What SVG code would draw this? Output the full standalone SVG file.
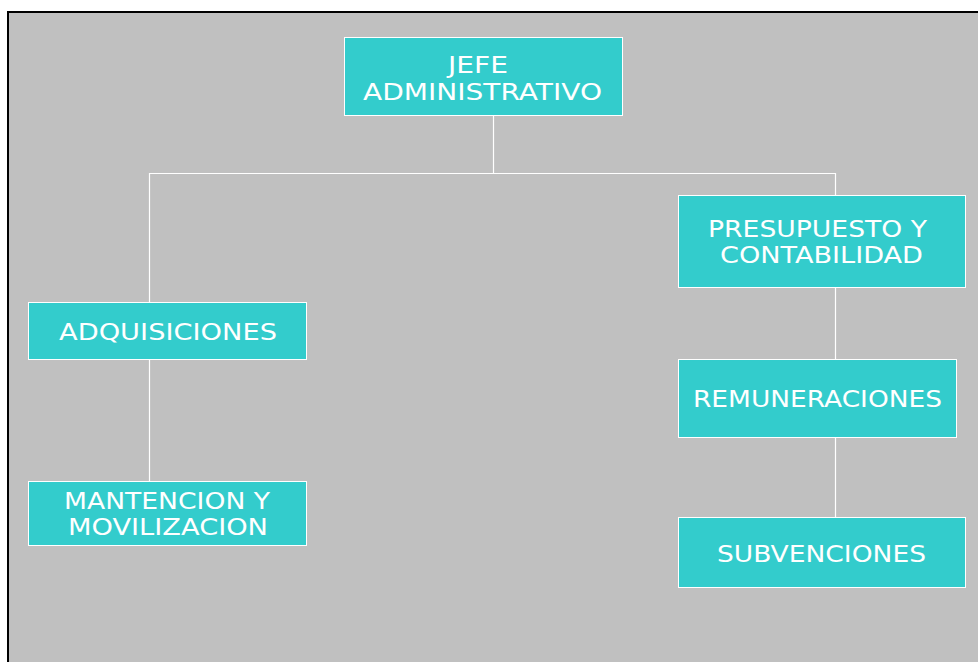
<svg xmlns="http://www.w3.org/2000/svg" width="978" height="662" viewBox="0 0 978 662">
<style>
.box{fill:#33CCCC;stroke:#FFFFFF;stroke-width:1}
.lbl{font-family:"DejaVu Sans","Verdana",sans-serif;font-size:23px;fill:#FFFFFF;text-anchor:middle}
.con{stroke:#FFFFFF;stroke-width:1.2;fill:none}
</style>
<rect x="0" y="0" width="978" height="662" fill="#FFFFFF"/>
<rect x="8" y="12" width="990" height="670" fill="#C0C0C0" stroke="#000000" stroke-width="2"/>
<g id="connectors">
<path class="con" d="M493.5,116 V173.5"/>
<path class="con" d="M149.5,302 V173.5 H835.5 V195"/>
<path class="con" d="M149.5,360 V481"/>
<path class="con" d="M835.5,288 V359"/>
<path class="con" d="M835.5,438 V517"/>
</g>
<g id="jefe">
<rect class="box" x="344.5" y="37.5" width="278" height="78"/>
<text class="lbl" x="478" y="73" textLength="60" lengthAdjust="spacingAndGlyphs">JEFE</text>
<text class="lbl" x="482.5" y="100" textLength="239" lengthAdjust="spacingAndGlyphs">ADMINISTRATIVO</text>
</g>
<g id="adquisiciones">
<rect class="box" x="28.5" y="302.5" width="278" height="57"/>
<text class="lbl" x="168" y="340" textLength="218" lengthAdjust="spacingAndGlyphs">ADQUISICIONES</text>
</g>
<g id="mantencion">
<rect class="box" x="28.5" y="481.5" width="278" height="64"/>
<text class="lbl" x="167" y="509" textLength="206" lengthAdjust="spacingAndGlyphs">MANTENCION Y</text>
<text class="lbl" x="168" y="535" textLength="200" lengthAdjust="spacingAndGlyphs">MOVILIZACION</text>
</g>
<g id="presupuesto">
<rect class="box" x="678.5" y="195.5" width="287" height="92"/>
<text class="lbl" x="817.5" y="237" textLength="219" lengthAdjust="spacingAndGlyphs">PRESUPUESTO Y</text>
<text class="lbl" x="821.5" y="263" textLength="203" lengthAdjust="spacingAndGlyphs">CONTABILIDAD</text>
</g>
<g id="remuneraciones">
<rect class="box" x="678.5" y="359.5" width="278" height="78"/>
<text class="lbl" x="817.5" y="407" textLength="249" lengthAdjust="spacingAndGlyphs">REMUNERACIONES</text>
</g>
<g id="subvenciones">
<rect class="box" x="678.5" y="517.5" width="287" height="70"/>
<text class="lbl" x="821.5" y="562" textLength="209" lengthAdjust="spacingAndGlyphs">SUBVENCIONES</text>
</g>
</svg>
